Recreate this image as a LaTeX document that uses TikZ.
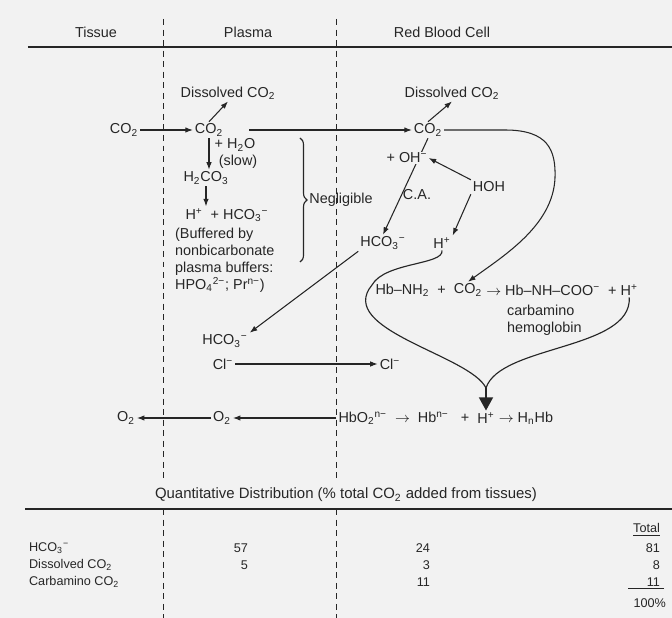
\documentclass[tikz,border=0pt]{standalone}
\usepackage{fontspec}
\setmainfont{Liberation Sans}
\usepackage{tikz}
\usetikzlibrary{arrows.meta, positioning, decorations.pathreplacing}

\definecolor{paper}{gray}{0.95}
\definecolor{ink}{gray}{0.15}

\newcommand{\cotwo}{CO\textsubscript{2}}
\newcommand{\bicarb}{HCO\textsubscript{3}\textsuperscript{−}}
\newcommand{\hion}{H\textsuperscript{+}}
\newcommand{\yields}{$\rightarrow$}

\begin{document}
\begin{tikzpicture}[
  >=Latex,
  font=\fontsize{8.2}{9.7}\selectfont,
  every node/.style={text=ink, inner sep=1pt},
  tabtxt/.style={font=\fontsize{7.2}{8.6}\selectfont},
  divider/.style={draw=ink, line width=0.5pt, dash pattern=on 3.4pt off 2.6pt},
  rule/.style={draw=ink, line width=0.75pt},
  arr/.style={-{Latex[length=1.5mm, width=1.1mm]}, draw=ink, line width=0.6pt},
  curv/.style={draw=ink, line width=0.65pt},
  bigarr/.style={-{Triangle[length=2.6mm, width=2.8mm]}, draw=ink, line width=0.65pt}
]

\fill[paper] (0,0) rectangle (13.44,-12.36);
\useasboundingbox (0,0) rectangle (13.44,-12.36);

\node (tissueH) at (1.92,-0.64) {Tissue};
\node (plasmaH) at (4.96,-0.64) {Plasma};
\node (rbcH)    at (8.84,-0.64) {Red Blood Cell};

\draw[rule] (0.56,-0.94) -- (13.44,-0.94);
\draw[divider] (3.26,-0.38)  -- (3.26,-9.64);
\draw[divider] (3.26,-10.18) -- (3.26,-12.36);
\draw[divider] (6.72,-0.38)  -- (6.72,-9.64);
\draw[divider] (6.72,-10.18) -- (6.72,-12.36);

\node (co2T)  at (2.48,-2.60) {\cotwo};
\node (co2P)  at (4.18,-2.60) {\cotwo};
\node (disP)  at (4.56,-1.86) {Dissolved \cotwo};
\node (h2o)   at (4.70,-2.90) {+ H\textsubscript{2}O};
\node (slow)  at (4.76,-3.24) {(slow)};
\node (h2co3) at (4.12,-3.56) {H\textsubscript{2}CO\textsubscript{3}};
\node (hhco3) at (4.54,-4.30) {\hion\ \ + \bicarb};
\node[anchor=north west, align=left] (buffer) at (3.46,-4.52) {%
  (Buffered by\\nonbicarbonate\\plasma buffers:\\
  HPO\textsubscript{4}\textsuperscript{2−}; Pr\textsuperscript{n−})};

\node (co2R)  at (8.56,-2.60) {\cotwo};
\node (disR)  at (9.04,-1.86) {Dissolved \cotwo};
\node (hohR)  at (9.78,-3.74) {HOH};
\node (caR)   at (8.34,-3.90) {C.A.};
\node (hco3R) at (7.66,-4.86) {\bicarb};
\node (hR)    at (8.84,-4.86) {\hion};

\node (eqCO2) at (9.36,-5.80) {\cotwo};
\node[left=0pt of eqCO2]  (eqHb)  {Hb–NH\textsubscript{2}\ \ +\ \ };
\node[right=0pt of eqCO2] (eqCoo) {\yields\ Hb–NH–COO\textsuperscript{−}\ \ +\ };
\node[right=0pt of eqCoo] (eqH)   {\hion};
\node[anchor=west, align=left] (carb) at (10.10,-6.40) {carbamino\\hemoglobin};

\node (hco3P) at (4.50,-6.82) {\bicarb};
\node (clP)   at (4.46,-7.28) {Cl\textsuperscript{−}};
\node (clR)   at (7.80,-7.28) {Cl\textsuperscript{−}};

\node (o2T)  at (2.52,-8.36) {O\textsubscript{2}};
\node (o2P)  at (4.44,-8.36) {O\textsubscript{2}};
\node (botH) at (9.72,-8.36) {\hion};
\node[left=0pt of botH]  (hbo2) {HbO\textsubscript{2}\textsuperscript{n−}\ \ \yields\ \ Hb\textsuperscript{n−}\ \ \ +\ \ };
\node[right=0pt of botH] (hnhb) {\yields\ H\textsubscript{n}Hb};
\coordinate (jn) at (9.72,-7.76);

\draw[arr] (co2T) -- (co2P);
\draw[arr, shorten <=4.8mm] (co2P.east) -- (co2R.west);
\draw[arr] (co2P.north) -- (disP.south);
\draw[arr] (co2R.north) -- (disR.south);
\draw[arr] (co2P.south) -- (co2P.south |- h2co3.north);
\draw[arr] (h2co3.south) -- (h2co3.south |- hhco3.north);

\draw[ink, line width=0.65pt, decorate, decoration={brace, amplitude=4pt}]
  (6.00,-2.76) -- (6.00,-5.24) node[midway, right=4pt] (negl) {Negligible};

\draw[arr] (co2R.south) -- (hco3R.north);
\node[fill=paper, inner sep=0.5pt] (ohR) at (8.14,-3.16) {+ OH\textsuperscript{−}};
\draw[arr] (hohR.north west) -- (ohR.east);
\draw[arr] (hohR.south west) -- (hR.north east);
\draw[arr] (hco3R.south west) -- (hco3P.north east);
\draw[arr] (clP) -- (clR);

\draw[arr] (co2R.east) -- (10.10,-2.60) .. controls (10.96,-2.60) and (11.12,-3.00) ..
  (11.10,-3.56) .. controls (11.06,-4.50) and (10.10,-5.10) .. (eqCO2.north);
\draw[curv] (hR.south) .. controls (8.88,-5.30) and (7.70,-5.24) .. (7.44,-5.70)
  .. controls (6.70,-6.60) and (9.40,-7.10) .. (jn);
\draw[curv] (eqH.south) .. controls (12.64,-7.00) and (10.00,-6.90) .. (jn);
\draw[bigarr] (jn) -- (botH.north);

\draw[arr] (hbo2.west) -- (o2P.east);
\draw[arr] (o2P.west) -- (o2T.east);

\node[font=\fontsize{8.5}{10}\selectfont] (title) at (6.92,-9.90)
  {Quantitative Distribution (\% total \cotwo\ added from tissues)};
\draw[rule] (0.50,-10.18) -- (13.44,-10.18);

\node[tabtxt, anchor=east] (totH) at (13.24,-10.60) {\underline{Total}};
\node[tabtxt, anchor=west] (rowA) at (0.54,-10.96) {\bicarb};
\node[tabtxt, anchor=west] (rowB) at (0.54,-11.30) {Dissolved \cotwo};
\node[tabtxt, anchor=west] (rowC) at (0.54,-11.64) {Carbamino \cotwo};
\node[tabtxt, anchor=east] (c1r1) at (5.00,-10.96) {57};
\node[tabtxt, anchor=east] (c1r2) at (5.00,-11.30) {5};
\node[tabtxt, anchor=east] (c2r1) at (8.64,-10.96) {24};
\node[tabtxt, anchor=east] (c2r2) at (8.64,-11.30) {3};
\node[tabtxt, anchor=east] (c2r3) at (8.64,-11.64) {11};
\node[tabtxt, anchor=east] (c3r1) at (13.24,-10.96) {81};
\node[tabtxt, anchor=east] (c3r2) at (13.24,-11.30) {8};
\node[tabtxt, anchor=east] (c3r3) at (13.24,-11.64) {11};
\node[tabtxt, anchor=east] (sum)  at (13.36,-12.06) {100\%};
\draw[ink, line width=0.5pt] ([xshift=0.4mm]c3r3.south east) -- ([xshift=-6.8mm]c3r3.south east);

\end{tikzpicture}
\end{document}
